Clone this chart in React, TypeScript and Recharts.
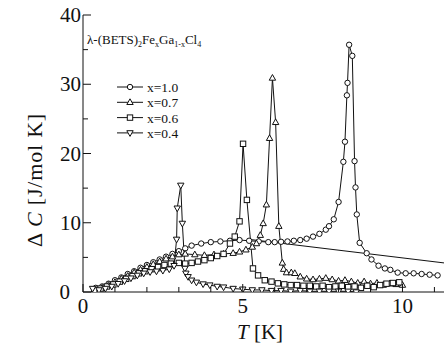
import { LineChart, Line, XAxis, YAxis } from 'recharts'

// temperature (K) and excess heat capacity (J/mol K) for each Fe content
const T_10 = [0.4, 0.6, 0.8, 1.0, 1.2, 1.4, 1.6, 1.8, 2.0, 2.2, 2.4, 2.6, 2.8, 3.0, 3.2, 3.4, 3.7, 4.0, 4.3, 4.6, 4.9, 5.2, 5.5, 5.8, 6.0, 6.2, 6.4, 6.6, 6.8, 7.0, 7.2, 7.4, 7.6, 7.7, 7.85, 8.0, 8.15, 8.2, 8.26, 8.28, 8.33, 8.43, 8.5, 8.53, 8.57, 8.66, 8.88, 9.03, 9.25, 9.45, 9.62, 9.85, 10.1, 10.35, 10.6, 10.85, 11.1]
const C_10 = [0.6, 0.8, 1.2, 1.7, 2.1, 2.6, 3.0, 3.5, 3.9, 4.3, 4.7, 5.1, 5.5, 5.9, 6.3, 6.7, 7.0, 7.2, 7.3, 7.4, 7.5, 7.4, 7.3, 7.2, 7.2, 7.25, 7.3, 7.4, 7.5, 7.7, 8.0, 8.4, 9.0, 9.5, 10.5, 13.0, 18.8, 21.7, 28.4, 30.2, 35.7, 34.1, 18.9, 15.1, 11.2, 7.1, 5.6, 4.7, 3.8, 3.4, 3.2, 2.8, 2.7, 2.7, 2.6, 2.5, 2.4]

const T_07 = [0.4, 0.6, 0.8, 1.0, 1.2, 1.4, 1.6, 1.8, 2.0, 2.2, 2.4, 2.6, 2.8, 3.0, 3.2, 3.5, 3.8, 4.1, 4.4, 4.7, 4.9, 5.1, 5.3, 5.43, 5.55, 5.64, 5.74, 5.84, 5.93, 6.03, 6.13, 6.24, 6.28, 6.37, 6.52, 6.63, 6.8, 7.0, 7.2, 7.4, 7.6, 7.8, 8.0, 8.2, 8.4, 8.6, 8.8, 9.0, 9.2, 9.4, 9.6, 9.8, 10.0]
const C_07 = [0.3, 0.6, 1.0, 1.4, 1.9, 2.3, 2.8, 3.2, 3.6, 4.0, 4.4, 4.8, 5.1, 5.4, 5.5, 5.4, 5.3, 5.4, 5.5, 5.6, 5.8, 6.1, 6.5, 7.0, 8.2, 9.9, 12.6, 22.2, 30.9, 24.5, 9.5, 4.2, 3.3, 2.8, 2.8, 2.7, 2.2, 1.9, 1.8, 1.9, 2.0, 1.8, 1.6, 1.7, 1.5, 1.3, 1.5, 1.2, 1.3, 1.0, 1.2, 1.1, 1.0]

const T_06 = [0.35, 0.55, 0.75, 0.95, 1.15, 1.35, 1.55, 1.75, 1.95, 2.15, 2.35, 2.55, 2.75, 3.0, 3.2, 3.4, 3.6, 3.8, 4.0, 4.2, 4.4, 4.6, 4.75, 4.9, 5.01, 5.13, 5.32, 5.48, 5.69, 5.9, 6.1, 6.3, 6.5, 6.7, 6.9, 7.1, 7.3, 7.5, 7.7, 7.9, 8.1, 8.3, 8.5, 8.7, 8.9, 9.1, 9.3, 9.5, 9.7, 9.9]
const C_06 = [0.3, 0.5, 0.8, 1.1, 1.5, 1.9, 2.3, 2.7, 3.0, 3.3, 3.6, 3.9, 4.1, 4.2, 4.1, 4.2, 4.4, 4.6, 4.9, 5.2, 5.5, 7.0, 8.0, 10.2, 21.4, 13.3, 3.4, 2.4, 1.7, 1.5, 1.25, 1.1, 1.0, 1.0, 0.9, 0.9, 0.8, 0.9, 0.7, 0.8, 0.9, 0.7, 0.8, 0.6, 0.9, 0.7, 1.0, 1.2, 1.3, 1.4]

const T_04 = [0.3, 0.5, 0.7, 0.9, 1.1, 1.3, 1.5, 1.7, 1.9, 2.1, 2.3, 2.5, 2.7, 2.85, 2.93, 2.95, 3.06, 3.11, 3.19, 3.22, 3.29, 3.4, 3.55, 3.76, 3.97, 4.2, 4.4, 4.7, 5.0, 5.3, 5.6, 5.9, 6.2, 6.5, 6.8, 7.1, 7.4, 7.7, 8.0, 8.3, 8.55]
const C_04 = [0.5, 0.3, 0.5, 0.8, 1.2, 1.6, 2.0, 2.4, 2.7, 2.9, 3.0, 3.1, 3.3, 3.8, 7.6, 12.1, 15.4, 9.9, 3.4, 2.7, 2.2, 1.7, 1.4, 1.15, 1.0, 0.8, 0.7, 0.5, 0.4, 0.3, 0.3, 0.2, 0.2, 0.1, 0.2, 0.1, 0.1, 0.1, 0.1, 0.1, 0.0]

// straight background line
const FIT_T = [5.2, 11.3]
const FIT_C = [7.6, 4.2]

const X_TICKS = [0, 1, 2, 3, 4, 5, 6, 7, 8, 9, 10, 11]
const Y_TICKS = [0, 5, 10, 15, 20, 25, 30, 35, 40]
const LEGEND = ['x=1.0', 'x=0.7', 'x=0.6', 'x=0.4']

const INK = '#111'
const FAMILY = 'Liberation Serif'

const zip = (t: number[], c: number[]) => t.map((x, i) => ({ x, y: c[i] }))

function Marker({ kind, cx, cy }: { kind: string; cx: number; cy: number }) {
  if (cx == null || cy == null || isNaN(cx) || isNaN(cy)) return null
  const p = { fill: '#fff', stroke: INK, strokeWidth: 1 }
  if (kind === 'circle') return <circle cx={cx} cy={cy} r={2.7} {...p} />
  if (kind === 'square') return <rect x={cx - 2.7} y={cy - 2.7} width={5.4} height={5.4} {...p} />
  if (kind === 'up')
    return <polygon points={`${cx},${cy - 3.5} ${cx - 3.2},${cy + 2.2} ${cx + 3.2},${cy + 2.2}`} {...p} />
  return <polygon points={`${cx},${cy + 3.5} ${cx - 3.2},${cy - 2.2} ${cx + 3.2},${cy - 2.2}`} {...p} />
}

const dot = (kind: string) => (props: any) => (
  <Marker key={`${kind}-${props.index}`} kind={kind} cx={props.cx} cy={props.cy} />
)

const isMajorX = (v: number) => v % 5 === 0
const isMajorY = (v: number) => v % 10 === 0

function BottomTick({ x, y, payload }: any) {
  const major = isMajorX(payload.value)
  return (
    <g>
      <line x1={x} x2={x} y1={y} y2={y - (major ? 8 : 5)} stroke={INK} />
      {major && (
        <text x={x} y={y + 21} textAnchor="middle" fontSize={21} fontFamily={FAMILY} fill={INK}>
          {payload.value}
        </text>
      )}
    </g>
  )
}

function TopTick({ x, y, payload }: any) {
  const major = isMajorX(payload.value)
  return <line x1={x} x2={x} y1={y} y2={y + (major ? 8 : 6)} stroke={INK} />
}

function LeftTick({ x, y, payload }: any) {
  const major = isMajorY(payload.value)
  // the zero label sits further left, clear of the x-axis zero
  const gap = payload.value === 0 ? 13 : 2
  return (
    <g>
      <line x1={x} x2={x + (major ? 8 : 5)} y1={y} y2={y} stroke={INK} />
      {major && (
        <text x={x - gap} y={y + 7} textAnchor="end" fontSize={21} fontFamily={FAMILY} fill={INK}>
          {payload.value}
        </text>
      )}
    </g>
  )
}

function RightTick({ x, y, payload }: any) {
  const major = isMajorY(payload.value)
  return <line x1={x} x2={x - (major ? 8 : 6)} y1={y} y2={y} stroke={INK} />
}

const SERIES = [
  { name: LEGEND[0], kind: 'circle', data: zip(T_10, C_10) },
  { name: LEGEND[1], kind: 'up', data: zip(T_07, C_07) },
  { name: LEGEND[2], kind: 'square', data: zip(T_06, C_06) },
  { name: LEGEND[3], kind: 'down', data: zip(T_04, C_04) },
]

export default function App() {
  return (
    <div style={{ position: 'absolute', left: 0, top: 0, width: 447, height: 347, background: '#fff' }}>
      <LineChart width={447} height={347} margin={{ top: 15, right: 3, bottom: 0, left: 0 }}>
        <XAxis
          xAxisId="b"
          dataKey="x"
          type="number"
          domain={[0, 11.3]}
          ticks={X_TICKS}
          interval={0}
          allowDataOverflow
          height={55}
          tickSize={0}
          tickMargin={0}
          tickLine={false}
          axisLine={{ stroke: INK }}
          tick={<BottomTick />}
        />
        <XAxis
          xAxisId="t"
          orientation="top"
          dataKey="x"
          type="number"
          domain={[0, 11.3]}
          ticks={X_TICKS}
          interval={0}
          allowDataOverflow
          height={0}
          tickSize={0}
          tickMargin={0}
          tickLine={false}
          axisLine={{ stroke: INK }}
          tick={<TopTick />}
        />
        <YAxis
          yAxisId="l"
          type="number"
          domain={[0, 40]}
          ticks={Y_TICKS}
          interval={0}
          allowDataOverflow
          width={83}
          tickSize={0}
          tickMargin={0}
          tickLine={false}
          axisLine={{ stroke: INK }}
          tick={<LeftTick />}
        />
        <YAxis
          yAxisId="r"
          orientation="right"
          type="number"
          domain={[0, 40]}
          ticks={Y_TICKS}
          interval={0}
          allowDataOverflow
          width={0}
          tickSize={0}
          tickMargin={0}
          tickLine={false}
          axisLine={{ stroke: INK }}
          tick={<RightTick />}
        />
        <Line
          xAxisId="b"
          yAxisId="l"
          data={zip(FIT_T, FIT_C)}
          dataKey="y"
          stroke={INK}
          strokeWidth={1}
          dot={false}
          activeDot={false}
          isAnimationActive={false}
        />
        {SERIES.map((s) => (
          <Line
            key={s.name}
            xAxisId="b"
            yAxisId="l"
            data={s.data}
            dataKey="y"
            name={s.name}
            stroke={INK}
            strokeWidth={1}
            dot={dot(s.kind)}
            activeDot={false}
            isAnimationActive={false}
          />
        ))}
      </LineChart>
      <svg
        width={447}
        height={347}
        style={{ position: 'absolute', left: 0, top: 0, pointerEvents: 'none' }}
        fontFamily={FAMILY}
        fill={INK}
      >
        <text x={87} y={44} fontSize={13}>
          λ-(BETS)
          <tspan fontSize={8} dy={3}>2</tspan>
          <tspan dy={-3}>Fe</tspan>
          <tspan fontSize={8} dy={3}>x</tspan>
          <tspan dy={-3}>Ga</tspan>
          <tspan fontSize={8} dy={3}>1-x</tspan>
          <tspan dy={-3}>Cl</tspan>
          <tspan fontSize={8} dy={3}>4</tspan>
        </text>
        {SERIES.map((s, i) => {
          const y = 87 + i * 15.3
          return (
            <g key={s.name}>
              <line x1={117} x2={143} y1={y} y2={y} stroke={INK} />
              <Marker kind={s.kind} cx={130} cy={y} />
              <text x={147} y={y + 5} fontSize={13.5}>
                {s.name}
              </text>
            </g>
          )
        })}
        <text x={260} y={339} fontSize={21} textAnchor="middle">
          <tspan fontStyle="italic">T</tspan> [K]
        </text>
        <text transform="translate(42,180) rotate(-90)" fontSize={22} letterSpacing={0.8} textAnchor="middle">
          Δ <tspan fontStyle="italic">C</tspan> [J/mol K]
        </text>
      </svg>
    </div>
  )
}
